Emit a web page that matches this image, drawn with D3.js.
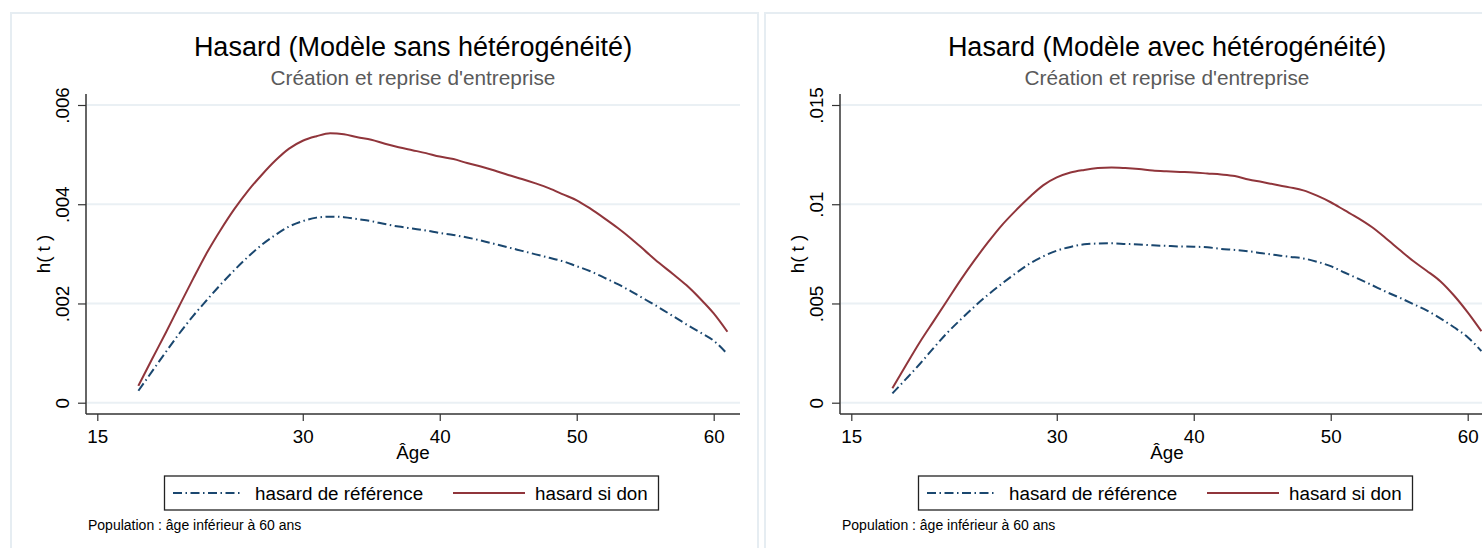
<!DOCTYPE html>
<html>
<head>
<meta charset="utf-8">
<script src="https://cdn.jsdelivr.net/npm/d3@7"></script>
<style>
  html, body { margin: 0; padding: 0; background: #ffffff; }
  svg { display: block; font-family: "Liberation Sans", Arial, sans-serif; }
</style>
</head>
<body>
<svg id="chart" width="1482" height="548"></svg>
<script>
// Ages covered by both estimated hazard curves
const ages = [18,19,20,21,22,23,24,25,26,27,28,29,30,31,32,33,34,35,36,37,38,39,
              40,41,42,43,44,45,46,47,48,49,50,51,52,53,54,55,56,57,58,59,60,61];

// Model without heterogeneity
const refNoHet = [0.00024,0.00063,0.00102,0.00140,0.00175,0.00207,0.00238,0.00267,0.00294,0.00318,
                  0.00338,0.00355,0.00366,0.00373,0.00375,0.00374,0.00370,0.00366,0.00360,0.00355,
                  0.00351,0.00347,0.00342,0.00338,0.00333,0.00327,0.00320,0.00313,0.00306,0.00299,
                  0.00292,0.00285,0.00275,0.00265,0.00252,0.00239,0.00224,0.00208,0.00192,0.00175,
                  0.00158,0.00142,0.00125,0.00098];
const donNoHet = [0.00034,0.00088,0.00141,0.00196,0.00250,0.00302,0.00348,0.00390,0.00427,0.00459,
                  0.00488,0.00512,0.00528,0.00537,0.00543,0.00541,0.00535,0.00530,0.00522,0.00515,
                  0.00509,0.00503,0.00496,0.00491,0.00483,0.00476,0.00468,0.00459,0.00451,0.00442,
                  0.00432,0.00420,0.00408,0.00391,0.00372,0.00352,0.00330,0.00306,0.00282,0.00260,
                  0.00237,0.00210,0.00180,0.00143];

// Model with heterogeneity
const refHet = [0.00047,0.00120,0.00195,0.00275,0.00352,0.00420,0.00485,0.00545,0.00600,0.00652,
                0.00700,0.00737,0.00766,0.00785,0.00798,0.00802,0.00803,0.00800,0.00797,0.00793,
                0.00790,0.00787,0.00786,0.00783,0.00775,0.00770,0.00763,0.00753,0.00744,0.00735,
                0.00727,0.00710,0.00688,0.00656,0.00625,0.00593,0.00560,0.00530,0.00498,0.00465,
                0.00425,0.00380,0.00330,0.00260];
const donHet = [0.00073,0.00190,0.00305,0.00410,0.00515,0.00620,0.00718,0.00810,0.00895,0.00968,
                0.01035,0.01095,0.01135,0.01160,0.01173,0.01182,0.01185,0.01182,0.01177,0.01170,
                0.01166,0.01163,0.01160,0.01155,0.01150,0.01142,0.01125,0.01112,0.01098,0.01085,
                0.01070,0.01043,0.01010,0.00970,0.00930,0.00885,0.00830,0.00772,0.00715,0.00665,
                0.00612,0.00540,0.00455,0.00360];

// Axis ticks and labels
const xTicks = [15, 30, 40, 50, 60];
const yTicksNoHet = [0, 0.002, 0.004, 0.006];
const yTickLabelsNoHet = ["0", ".002", ".004", ".006"];
const yTicksHet = [0, 0.005, 0.01, 0.015];
const yTickLabelsHet = ["0", ".005", ".01", ".015"];

const titles = ["Hasard (Modèle sans hétérogénéité)", "Hasard (Modèle avec hétérogénéité)"];
const subtitle = "Création et reprise d'entreprise";
const seriesNames = ["hasard de référence", "hasard si don"];
const xTitle = "Âge";
const yTitle = "h( t )";
const note = "Population : âge inférieur à 60 ans";

const colors = { ref: "#1a476f", don: "#90353b", grid: "#eaf0f4", frame: "#e6edf2", axis: "#333333" };
const refDash = "9,3.5,1.5,3.5";
const labelSize = 18.8;

const svg = d3.select("#chart");

function drawPanel(ox, cfg) {
  const g = svg.append("g").attr("transform", `translate(${ox},0)`);

  // outer panel frame
  g.append("rect")
    .attr("x", 11).attr("y", 13).attr("width", 747).attr("height", 560)
    .attr("fill", "#ffffff").attr("stroke", colors.frame).attr("stroke-width", 2);

  const plot = { left: 86, right: 740, top: 94, bottom: 414 };
  const pxPerYear = (713.7 - 97.3) / 45;
  const x = d3.scaleLinear()
    .domain([15 - (97.3 - plot.left) / pxPerYear, 60 + (plot.right - 713.7) / pxPerYear])
    .range([plot.left, plot.right]);
  const yMax = cfg.yTicks[cfg.yTicks.length - 1];
  const pxPerUnit = (402.7 - 105) / yMax;
  const y = d3.scaleLinear()
    .domain([-(plot.bottom - 402.7) / pxPerUnit, yMax + (105 - plot.top) / pxPerUnit])
    .range([plot.bottom, plot.top]);

  // gridlines
  g.append("g").selectAll("line").data(cfg.yTicks).join("line")
    .attr("x1", plot.left + 1).attr("x2", plot.right)
    .attr("y1", d => y(d)).attr("y2", d => y(d))
    .attr("stroke", colors.grid).attr("stroke-width", 2);

  // y axis
  const yAxis = g.append("g").attr("transform", `translate(${plot.left},0)`)
    .call(d3.axisLeft(y).tickValues(cfg.yTicks).tickSize(8).tickFormat((d, i) => cfg.yLabels[i]));
  yAxis.select(".domain").attr("d", `M0,${plot.top}V${plot.bottom}`).attr("stroke", colors.axis).attr("stroke-width", 1.5);
  yAxis.selectAll(".tick line").attr("stroke", colors.axis).attr("stroke-width", 1.2);
  yAxis.selectAll(".tick text")
    .attr("x", null).attr("dy", null)
    .attr("transform", "translate(-17,0) rotate(-90)")
    .attr("text-anchor", "middle")
    .attr("font-size", labelSize).attr("fill", "#000")
    .attr("font-family", "Liberation Sans, Arial, sans-serif");

  // x axis
  const xAxis = g.append("g").attr("transform", `translate(0,${plot.bottom})`)
    .call(d3.axisBottom(x).tickValues(xTicks).tickSize(7).tickFormat(d3.format("d")));
  xAxis.select(".domain").attr("d", `M${plot.left},0H${plot.right}`).attr("stroke", colors.axis).attr("stroke-width", 1.5);
  xAxis.selectAll(".tick line").attr("stroke", colors.axis).attr("stroke-width", 1.2);
  xAxis.selectAll(".tick text")
    .attr("y", 28.5).attr("dy", null)
    .attr("font-size", labelSize).attr("fill", "#000")
    .attr("font-family", "Liberation Sans, Arial, sans-serif");

  const cx = (plot.left + plot.right) / 2;

  // axis titles
  g.append("text").attr("x", cx).attr("y", 459).attr("text-anchor", "middle")
    .attr("font-size", labelSize).text(xTitle);
  g.append("text").attr("transform", `translate(50,${(plot.top + plot.bottom) / 2}) rotate(-90)`)
    .attr("text-anchor", "middle").attr("font-size", labelSize).text(yTitle);

  // titles
  g.append("text").attr("x", cx).attr("y", 56).attr("text-anchor", "middle")
    .attr("font-size", 27).attr("fill", "#000").text(cfg.title);
  g.append("text").attr("x", cx).attr("y", 85).attr("text-anchor", "middle")
    .attr("font-size", 20.8).attr("fill", "#5a5a5a").text(subtitle);

  // curves
  const line = d3.line().x(d => x(d[0])).y(d => y(d[1])).curve(d3.curveMonotoneX);
  g.append("path").datum(d3.zip(ages, cfg.ref))
    .attr("d", line).attr("fill", "none")
    .attr("stroke", colors.ref).attr("stroke-width", 2).attr("stroke-dasharray", refDash);
  g.append("path").datum(d3.zip(ages, cfg.don))
    .attr("d", line).attr("fill", "none")
    .attr("stroke", colors.don).attr("stroke-width", 2);

  // legend
  const lg = g.append("g");
  lg.append("rect").attr("x", 164.5).attr("y", 476).attr("width", 494).attr("height", 34)
    .attr("fill", "#fff").attr("stroke", "#222").attr("stroke-width", 1.3);
  lg.append("line").attr("x1", 173).attr("x2", 243).attr("y1", 493).attr("y2", 493)
    .attr("stroke", colors.ref).attr("stroke-width", 2).attr("stroke-dasharray", refDash);
  lg.append("text").attr("x", 255).attr("y", 500).attr("font-size", labelSize).text(seriesNames[0]);
  lg.append("line").attr("x1", 453).attr("x2", 525).attr("y1", 493).attr("y2", 493)
    .attr("stroke", colors.don).attr("stroke-width", 2);
  lg.append("text").attr("x", 535).attr("y", 500).attr("font-size", labelSize).text(seriesNames[1]);

  // note
  g.append("text").attr("x", 88).attr("y", 530).attr("font-size", 14).text(note);
}

drawPanel(0, { title: titles[0], ref: refNoHet, don: donNoHet, yTicks: yTicksNoHet, yLabels: yTickLabelsNoHet });
drawPanel(754, { title: titles[1], ref: refHet, don: donHet, yTicks: yTicksHet, yLabels: yTickLabelsHet });
</script>
</body>
</html>
